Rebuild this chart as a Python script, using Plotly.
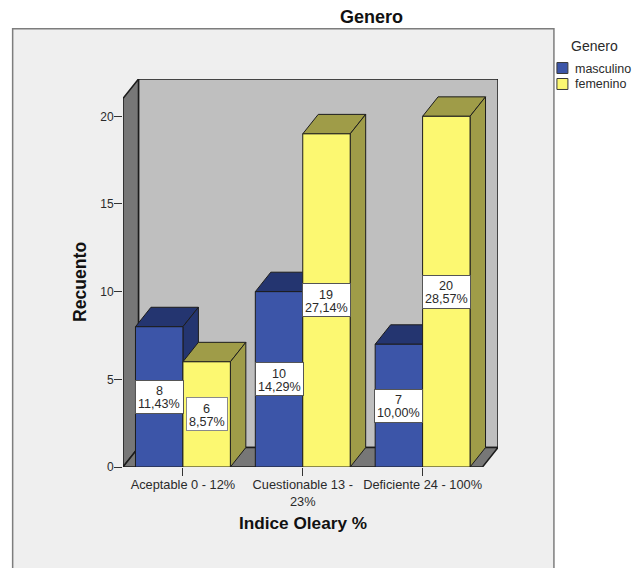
import plotly.graph_objects as go

# Recuento of patients per O'Leary index band, split by gender
categories = ["Aceptable 0 - 12%", "Cuestionable 13 -<br>23%", "Deficiente 24 - 100%"]
masculino = [8, 10, 7]
femenino = [6, 19, 20]
masculino_pct = ["11,43%", "14,29%", "10,00%"]
femenino_pct = ["8,57%", "27,14%", "28,57%"]
y_ticks = [0, 5, 10, 15, 20]

FONT = "Liberation Sans, Arial, sans-serif"
INK = "#1c1c1c"
TEXT = "#2a2a2a"
BLUE, BLUE_DARK = "#3c55a8", "#243570"
YELLOW, OLIVE = "#fcf871", "#9f9c48"
WALL, WALL_SIDE = "#bfbfbf", "#777777"
PANEL, PANEL_EDGE = "#efefef", "#7d7d7d"

W, H = 632, 568
LEFT, RIGHT, TOP, BOTTOM = 123, 498.5, 78.5, 467.5
PX_PER_CAT = 120.0
PX_PER_UNIT = 17.58
DX = 15.5 / PX_PER_CAT     # oblique depth of the box, in axis units
DY = 19.5 / PX_PER_UNIT
X0, X1 = -0.5, 2.5
Y_MAX = (BOTTOM - TOP) / PX_PER_UNIT
BAR_W = 47.5 / PX_PER_CAT
BARGAP = 1 - 2 * BAR_W


# Paper coordinates are relative to the plot area, so page pixels are converted here
def px(x):
    return (x - LEFT) / (RIGHT - LEFT)


def py(y):
    return (BOTTOM - y) / (BOTTOM - TOP)


def polygon(xs, ys, fill, width=1.0):
    return go.Scatter(
        x=xs + xs[:1], y=ys + ys[:1], mode="lines", fill="toself", fillcolor=fill,
        line=dict(color=INK, width=width), cliponaxis=False, hoverinfo="skip", showlegend=False,
    )


def page_text(x, y, text, size, color=TEXT, **extra):
    anchors = dict(xanchor="center", yanchor="middle")
    anchors.update(extra)
    return dict(x=px(x), y=py(y), xref="paper", yref="paper", showarrow=False, text=text,
                font=dict(family=FONT, size=size, color=color), **anchors)


fig = go.Figure()

# Box behind the bars: back wall, side wall and floor
fig.add_trace(polygon([X0 + DX, X1 + DX, X1 + DX, X0 + DX], [DY, DY, Y_MAX, Y_MAX], WALL, 1.5))
fig.add_trace(polygon([X0, X0 + DX, X0 + DX, X0], [0, DY, Y_MAX, Y_MAX - DY], WALL_SIDE, 1.5))
fig.add_trace(polygon([X0, X1, X1 + DX, X0 + DX], [0, 0, DY, DY], WALL_SIDE, 1.5))

# Top and side faces of every bar, extruded from its value
for sign, values, shade in ((-1, masculino, BLUE_DARK), (0, femenino, OLIVE)):
    for i, v in enumerate(values):
        a = i + sign * BAR_W
        b = a + BAR_W
        fig.add_trace(polygon([a, b, b + DX, a + DX], [v, v, v + DY, v + DY], shade))
        fig.add_trace(polygon([b, b + DX, b + DX, b], [0, DY, v + DY, v], shade))

# Front faces sit on an overlaying axis pair so they cover the neighbouring extrusions
for name, values, colour in (("masculino", masculino, BLUE), ("femenino", femenino, YELLOW)):
    fig.add_trace(go.Bar(
        x=[0, 1, 2], y=values, name=name, xaxis="x2", yaxis="y2",
        marker=dict(color=colour, line=dict(color=INK, width=1)), showlegend=False,
    ))

annotations = []
shapes = [dict(type="rect", xref="paper", yref="paper", layer="below",
               x0=px(12.5), x1=px(554.5), y0=py(640), y1=py(28),
               fillcolor=PANEL, line=dict(color=PANEL_EDGE, width=1.5))]

# Count and percentage boxes, centred halfway up each bar; the two lines are
# placed separately to keep them tighter than the default annotation leading
for sign, values, pcts in ((-0.5, masculino, masculino_pct), (0.5, femenino, femenino_pct)):
    for i, (v, pct) in enumerate(zip(values, pcts)):
        common = dict(x=i + sign * BAR_W, y=v / 2, xref="x", yref="y", showarrow=False,
                      xanchor="center", yanchor="middle",
                      font=dict(family=FONT, size=12.6, color=TEXT))
        annotations.append(dict(
            text=" ", width=47 if len(pct) > 5 else 40, height=32, borderpad=0,
            bgcolor="white", bordercolor="#8a8a8a" if len(pct) == 5 else "#555555", borderwidth=1,
            **common,
        ))
        annotations.append(dict(text=str(v), yshift=5.5, **common))
        annotations.append(dict(text=pct, yshift=-7.5, **common))

# Axis titles, chart title and legend
annotations += [
    page_text(303, 524, "<b>Indice Oleary %</b>", 17.2, "#111111"),
    page_text(80, 282, "<b>Recuento</b>", 17.6, "#111111", textangle=-90),
    page_text(372, 16, "<b>Genero</b>", 18, "#111111"),
    page_text(595, 45, "Genero", 14),
]
for row, (name, colour) in enumerate((("masculino", BLUE), ("femenino", YELLOW))):
    cy = 67.5 + 16 * row
    shapes.append(dict(type="rect", xref="paper", yref="paper", x0=px(557.5), x1=px(568.5),
                       y0=py(cy + 5.5), y1=py(cy - 5.5), fillcolor=colour, line=dict(color="#3a3a3a", width=1)))
    annotations.append(page_text(574, cy + 0.5, name, 12.5, xanchor="left"))

fig.update_layout(
    width=W, height=H, autosize=False,
    margin=dict(l=LEFT, r=W - RIGHT, t=TOP, b=H - BOTTOM, pad=0),
    paper_bgcolor="white", plot_bgcolor="rgba(0,0,0,0)",
    barmode="group", bargap=BARGAP, bargroupgap=0, showlegend=False,
    font=dict(family=FONT, size=12, color=TEXT),
    annotations=annotations, shapes=shapes,
    xaxis=dict(range=[X0, X1 + DX], tickmode="array", tickvals=[0, 1, 2], ticktext=categories,
               ticks="outside", ticklen=8, tickwidth=1, tickcolor="#333333", ticklabelstandoff=-2,
               showgrid=False, zeroline=False, showline=False, tickfont=dict(size=12.8, color=TEXT)),
    yaxis=dict(range=[0, Y_MAX], tickmode="array", tickvals=y_ticks,
               ticks="outside", ticklen=8, tickwidth=1, tickcolor="#333333", ticklabelstandoff=-2,
               showgrid=False, zeroline=False, showline=False, tickfont=dict(size=12, color=TEXT)),
    xaxis2=dict(overlaying="x", range=[X0, X1 + DX], visible=False),
    yaxis2=dict(overlaying="y", range=[0, Y_MAX], visible=False),
)

fig.write_html("out.html")
